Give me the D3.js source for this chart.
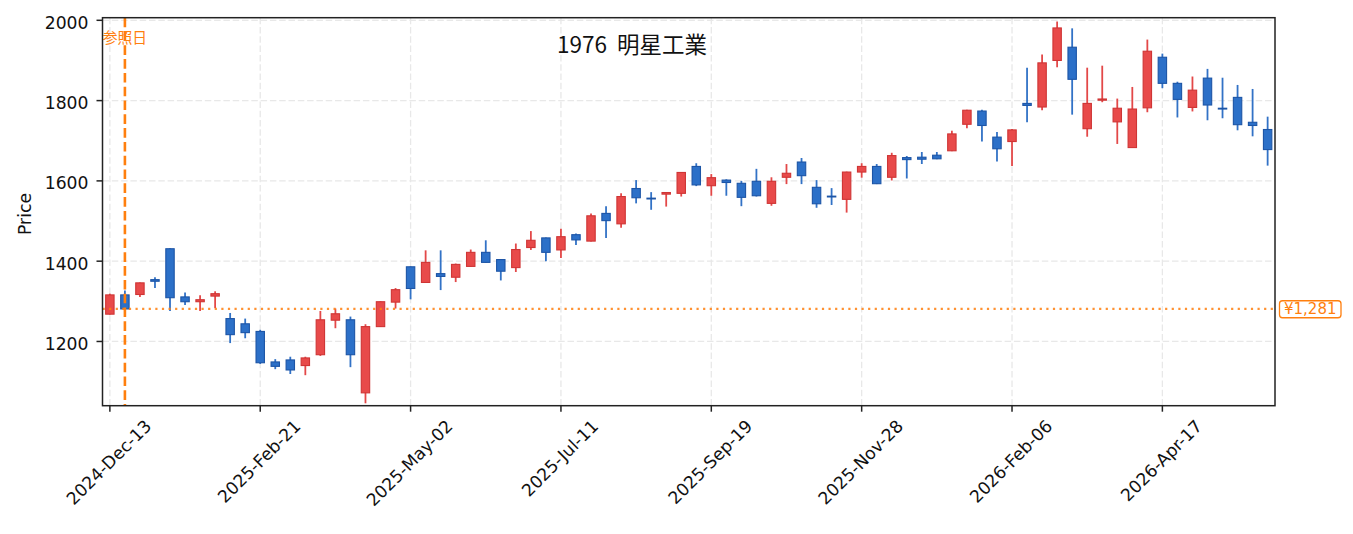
<!DOCTYPE html>
<html><head><meta charset="utf-8">
<script src="https://cdn.jsdelivr.net/npm/d3@7"></script>
<style>
html,body{margin:0;padding:0;background:#fff;}
svg{display:block;}
text{white-space:pre;}
</style></head>
<body>
<svg id="chart" width="1353" height="534"></svg>
<script>
const dates = ["2024-12-13","2024-12-20","2024-12-27","2025-01-03","2025-01-10","2025-01-17","2025-01-24","2025-01-31","2025-02-07","2025-02-14","2025-02-21","2025-02-28","2025-03-07","2025-03-14","2025-03-21","2025-03-28","2025-04-04","2025-04-11","2025-04-18","2025-04-25","2025-05-02","2025-05-09","2025-05-16","2025-05-23","2025-05-30","2025-06-06","2025-06-13","2025-06-20","2025-06-27","2025-07-04","2025-07-11","2025-07-18","2025-07-25","2025-08-01","2025-08-08","2025-08-15","2025-08-22","2025-08-29","2025-09-05","2025-09-12","2025-09-19","2025-09-26","2025-10-03","2025-10-10","2025-10-17","2025-10-24","2025-10-31","2025-11-07","2025-11-14","2025-11-21","2025-11-28","2025-12-05","2025-12-12","2025-12-19","2025-12-26","2026-01-02","2026-01-09","2026-01-16","2026-01-23","2026-01-30","2026-02-06","2026-02-13","2026-02-20","2026-02-27","2026-03-06","2026-03-13","2026-03-20","2026-03-27","2026-04-03","2026-04-10","2026-04-17","2026-04-24","2026-05-01","2026-05-08","2026-05-15","2026-05-22","2026-05-29","2026-06-05"];
const opens  = [1268,1316,1317,1354,1431,1311,1299,1313,1257,1244,1225,1149,1154,1140,1167,1253,1254,1072,1237,1298,1386,1347,1369,1360,1387,1422,1404,1384,1434,1458,1428,1466,1450,1519,1493,1581,1557,1567,1569,1636,1588,1602,1594,1599,1544,1609,1647,1584,1562,1554,1622,1636,1609,1658,1659,1664,1675,1741,1774,1709,1698,1793,1784,1900,1933,1730,1801,1747,1683,1782,1908,1843,1783,1856,1781,1808,1746,1728];
const highs  = [1319,1327,1347,1360,1432,1322,1315,1325,1271,1257,1229,1156,1162,1162,1276,1282,1262,1243,1300,1333,1387,1427,1427,1394,1429,1452,1405,1444,1475,1459,1481,1469,1519,1537,1569,1602,1572,1572,1622,1644,1617,1604,1600,1630,1609,1642,1657,1602,1582,1623,1644,1642,1670,1662,1672,1672,1725,1777,1777,1722,1729,1882,1915,1997,1980,1882,1887,1805,1834,1952,1917,1847,1860,1879,1857,1839,1829,1760];
const lows   = [1267,1273,1311,1333,1276,1291,1276,1283,1196,1208,1144,1131,1119,1116,1164,1233,1136,1046,1236,1282,1305,1346,1328,1348,1386,1396,1352,1373,1428,1400,1408,1440,1449,1458,1483,1544,1528,1536,1561,1587,1563,1563,1537,1561,1538,1592,1592,1533,1540,1521,1608,1592,1601,1606,1642,1654,1674,1731,1698,1648,1637,1746,1776,1883,1765,1710,1796,1692,1682,1771,1831,1758,1773,1751,1756,1726,1711,1638];
const closes = [1316,1281,1346,1350,1309,1299,1304,1319,1217,1222,1147,1138,1129,1159,1254,1269,1167,1237,1299,1329,1332,1397,1362,1392,1422,1397,1375,1429,1452,1422,1461,1453,1513,1501,1561,1558,1555,1571,1621,1590,1608,1596,1559,1563,1599,1619,1613,1543,1560,1622,1636,1593,1663,1653,1654,1655,1717,1776,1738,1680,1727,1788,1894,1981,1853,1793,1804,1781,1779,1923,1843,1803,1826,1789,1779,1740,1738,1678];
const tickDates = ["2024-12-13","2025-02-21","2025-05-02","2025-07-11","2025-09-19","2025-11-28","2026-02-06","2026-04-17"];
const yTicks = [1200,1400,1600,1800,2000];
const refDate = "2024-12-20";
const refPrice = 1281;
const titleText = "1976  明星工業";
const refLabel = "参照日";
const yLabel = "Price";

const parse = d3.timeParse("%Y-%m-%d");
const fmt = d3.timeFormat("%Y-%b-%d");
const data = dates.map((d,i)=>({date:parse(d),o:opens[i],h:highs[i],l:lows[i],c:closes[i]}));

const L=102.5,R=1275,T=17.7,B=405.7;
const WEEK = 7*24*3600*1000;
const pad = 0.49*WEEK;
const x = d3.scaleTime()
  .domain([new Date(+data[0].date - pad), new Date(+data[data.length-1].date + pad)])
  .range([L,R]);
const y = d3.scaleLinear().domain([1040,2006.5]).range([B,T]);

const svg = d3.select("#chart");
svg.append("rect").attr("width",1353).attr("height",534).attr("fill","#fff");

const latin = "'DejaVu Sans', sans-serif";
const cjk = "'Noto Sans CJK JP', sans-serif";
const fs = 17.2;

// grid
const grid = svg.append("g");
tickDates.forEach(t=>{
  grid.append("line").attr("x1",x(parse(t))).attr("x2",x(parse(t))).attr("y1",T).attr("y2",B)
    .attr("stroke","#e8e8e8").attr("stroke-width",1.3).attr("stroke-dasharray","6.5,2.8");
});
yTicks.forEach(v=>{
  grid.append("line").attr("x1",L).attr("x2",R).attr("y1",y(v)).attr("y2",y(v))
    .attr("stroke","#e8e8e8").attr("stroke-width",1.3).attr("stroke-dasharray","6.5,2.8");
});

// candles
const bw = 8.4;
const cg = svg.append("g");
data.forEach(d=>{
  const up = d.c >= d.o;
  const fill = up ? "#e84a4a" : "#2c70c8";
  const stroke = up ? "#cf3535" : "#1d55a6";
  const wick = up ? "#e34848" : "#3272c6";
  const cx = x(d.date);
  cg.append("line").attr("x1",cx).attr("x2",cx).attr("y1",y(d.h)).attr("y2",y(d.l))
    .attr("stroke",wick).attr("stroke-width",1.8);
  const top = y(Math.max(d.o,d.c)), bot = y(Math.min(d.o,d.c));
  cg.append("rect").attr("x",cx-bw/2).attr("y",top).attr("width",bw).attr("height",Math.max(bot-top,0.8))
    .attr("fill",fill).attr("stroke",stroke).attr("stroke-width",1.1);
});

// reference lines
const rx = x(parse(refDate));
svg.append("line").attr("x1",L).attr("x2",R).attr("y1",y(refPrice)).attr("y2",y(refPrice))
  .attr("stroke","#ff7f0e").attr("stroke-opacity",0.85).attr("stroke-width",2.2).attr("stroke-dasharray","2.2,4.4");
svg.append("line").attr("x1",rx).attr("x2",rx).attr("y1",T).attr("y2",B)
  .attr("stroke","#ff7f0e").attr("stroke-width",2.6).attr("stroke-dasharray","9.6,4.2");
svg.append("text").attr("x",rx).attr("y",43).attr("text-anchor","middle")
  .attr("font-family",cjk).attr("font-size",14.8).attr("fill","#ff7f0e").text(refLabel);

// title
svg.append("text").attr("x",632).attr("y",52.5).attr("text-anchor","middle")
  .attr("font-family",cjk).attr("font-size",22.5).attr("fill","#111").text(titleText);

// frame
svg.append("rect").attr("x",L).attr("y",T).attr("width",R-L).attr("height",B-T)
  .attr("fill","none").attr("stroke","#222").attr("stroke-width",1.5);

// y axis ticks
yTicks.forEach(v=>{
  svg.append("line").attr("x1",L-6).attr("x2",L).attr("y1",y(v)).attr("y2",y(v))
    .attr("stroke","#222").attr("stroke-width",1.5);
  svg.append("text").attr("x",88.5).attr("y",y(v)+8.6).attr("text-anchor","end")
    .attr("font-family",latin).attr("font-size",fs).attr("fill","#111").text(v);
});
// x axis ticks
tickDates.forEach(t=>{
  const tx = x(parse(t));
  svg.append("line").attr("x1",tx).attr("x2",tx).attr("y1",B).attr("y2",B+6)
    .attr("stroke","#222").attr("stroke-width",1.5);
  const txt = svg.append("text").attr("text-anchor","middle")
    .attr("font-family",latin).attr("font-size",fs).attr("fill","#111").attr("dy",(0.346)+"em").text(fmt(parse(t)));
  const w = txt.node().getComputedTextLength();
  const cy = 416 + (w + 1.164*fs)*0.7071/2;
  txt.attr("transform",`translate(${tx-1},${cy}) rotate(-45)`);
});

// y label
svg.append("text").attr("transform","translate(30.5,214) rotate(-90)").attr("text-anchor","middle")
  .attr("font-family",latin).attr("font-size",fs).attr("fill","#111").text(yLabel);

// right price label
const lbl = svg.append("g");
const lt = lbl.append("text").attr("x",1284).attr("y",y(refPrice)+5.3)
  .attr("font-family",latin).attr("font-size",15).attr("fill","#ff7f0e").text("¥" + d3.format(",")(refPrice));
const bb = lt.node().getBBox();
lbl.insert("rect","text").attr("x",bb.x-4.5).attr("y",bb.y+0.5).attr("width",bb.width+9).attr("height",bb.height-1)
  .attr("rx",3).attr("fill","#fff").attr("stroke","#ff7f0e").attr("stroke-width",1.3);
</script>
</body></html>
